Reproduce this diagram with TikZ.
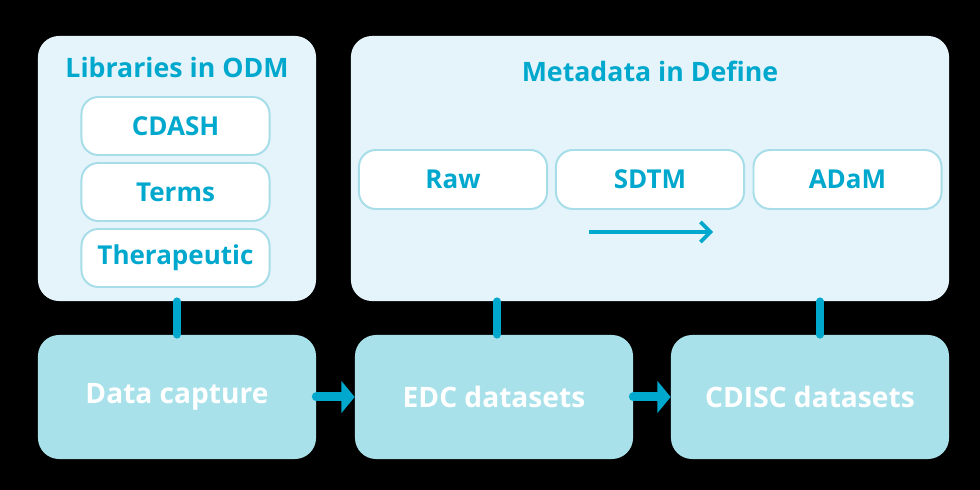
\documentclass[tikz,border=0pt]{standalone}
\usepackage{fontspec}
\setmainfont{Open Sans}
\usepackage{xcolor}
\usepackage{tikz}
\usetikzlibrary{positioning, arrows.meta}
\definecolor{CDTeal}{HTML}{00A8CE}
\definecolor{CDPale}{HTML}{E4F4FA}
\definecolor{CDAqua}{HTML}{A8E1EA}
\definecolor{CDRim}{HTML}{A6DDE8}

\begin{document}
\begin{tikzpicture}[x=0.025cm, y=-0.025cm,
          panel/.style={rectangle, rounded corners=15pt, fill=CDPale,
                        minimum height=6.625cm},
          ptitle/.style={font=\fontsize{19}{22}\selectfont\bfseries, text=CDTeal},
          libbx/.style={rectangle, rounded corners=12pt, draw=CDRim,
                        line width=1.4pt, fill=white, minimum width=4.7cm,
                        minimum height=1.45cm, align=center, text=CDTeal,
                        font=\fontsize{18.5}{22}\selectfont\bfseries},
          stagebx/.style={rectangle, rounded corners=15pt, fill=CDAqua,
                          minimum width=6.95cm, minimum height=3.1cm,
                          text=white, font=\fontsize{20}{23}\selectfont\bfseries},
          link/.style={draw=CDTeal, line width=5.5pt, line cap=round},
          flow/.style={-{Triangle[length=0.33cm, width=0.78cm]}, draw=CDTeal,
                       line width=6.4pt, line cap=round},
          thin/.style={-{Straight Barb[length=0.25cm, width=0.5cm]}, draw=CDTeal,
                       line width=2.6pt}
        ]
        \fill[black] (0,0) rectangle (980,490);

        % Libraries in ODM
        \node[panel, minimum width=6.95cm] (lib) at (177, 168.5) {};
        \node[ptitle] (libt) at (177, 67) {Libraries in ODM};
        \node[libbx] (cdash) at (175.5, 126) {CDASH};
        \node[libbx] (terms) at (175.5, 192) {Terms};
        \node[libbx] (thera) at (175.5, 258) {Therapeutic};

        % Metadata in Define
        \node[panel, minimum width=14.95cm] (meta) at (650, 168.5) {};
        \node[ptitle] (metat) at (650, 71) {Metadata in Define};
        \node[libbx, minimum height=1.475cm] (raw) at (453, 179.5) {Raw};
        \node[libbx, minimum height=1.475cm] (sdtm) at (650, 179.5) {SDTM};
        \node[libbx, minimum height=1.475cm] (adam) at (847.5, 179.5) {ADaM};
        \coordinate (flowa) at (589, 232);
        \coordinate (flowb) at (713, 232);
        \draw[thin] (flowa) -- (flowb);

        % Datasets
        \node[stagebx] (cap) at (177, 397) {Data capture};
        \node[stagebx] (edc) at (494, 397) {EDC datasets};
        \node[stagebx] (cdisc) at (810, 397) {CDISC datasets};

        % Links up to the panels
        \draw[link] (lib.south) -- (cap.north);
        \coordinate (edcin) at ([xshift=0.075cm]edc.north);
        \draw[link] (edcin |- meta.south) -- (edcin);
        \coordinate (cdin) at ([xshift=0.25cm]cdisc.north);
        \draw[link] (cdin |- meta.south) -- (cdin);

        % Flow between datasets
        \draw[flow] (cap.east) -- (edc.west);
        \draw[flow] (edc.east) -- (cdisc.west);
      \end{tikzpicture}
\end{document}
